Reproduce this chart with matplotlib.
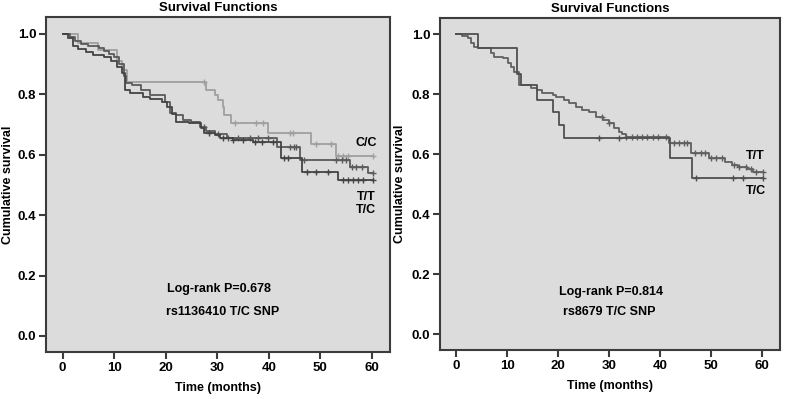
import numpy as np
import matplotlib
matplotlib.use('Agg')
import matplotlib.pyplot as plt

plt.rcParams['font.family'] = ['Liberation Sans', 'DejaVu Sans']
plt.rcParams['font.weight'] = 'bold'

# ---------------------------------------------------------------- data
# left panel: rs1136410 T/C SNP
l_cc_t = [0, 3.0, 6.9, 10.5, 11.5, 12.6, 27.9, 29.5, 30.1, 31.1, 31.4, 32.7, 39.9, 48.2, 53.1, 60.2]
l_cc_s = [1.0, 0.97, 0.948, 0.91, 0.88, 0.84, 0.815, 0.798, 0.781, 0.759, 0.732, 0.706, 0.673, 0.637, 0.596, 0.596]
l_cc_cens = [27.5, 33.4, 37.6, 38.9, 44.1, 44.7, 49.2, 52.1, 53.4, 54.4, 55.4, 60.2]

l_tt_t = [0, 1.5, 2.5, 3.5, 5, 7.0, 8, 9, 10, 11, 12, 12.3, 13.5, 15.3, 16.9, 19.8, 20.8, 22, 23.4,
          25, 26.6, 27.9, 29.5, 31.8, 41.5, 46.0, 55.7, 59.2, 60.2]
l_tt_s = [1.0, 0.99, 0.975, 0.965, 0.96, 0.955, 0.945, 0.935, 0.925, 0.90, 0.86, 0.837, 0.83, 0.815,
          0.798, 0.776, 0.737, 0.73, 0.715, 0.71, 0.693, 0.677, 0.67, 0.655, 0.625, 0.583, 0.561, 0.539, 0.539]
l_tt_cens = [27.5, 30.2, 32.1, 34.0, 36.3, 37.9, 39.9, 44.2, 44.8, 45.2, 46.9, 53.1, 54.1, 55.0,
             56.2, 57.0, 58.0, 60.2]

l_tc_t = [0, 1, 2, 3, 4.5, 6, 8, 9.5, 10.5, 11.5, 12.2, 13, 15.6, 17, 19.2, 20.2, 21.2, 22.1, 24.5,
          26.9, 27.5, 29.5, 30.5, 33, 37, 42.4, 46.5, 53.4, 60.2]
l_tc_s = [1.0, 0.985, 0.96, 0.95, 0.94, 0.93, 0.925, 0.91, 0.89, 0.87, 0.815, 0.804, 0.792, 0.785,
          0.776, 0.759, 0.735, 0.71, 0.705, 0.688, 0.671, 0.665, 0.655, 0.648, 0.643, 0.588, 0.544,
          0.517, 0.517]
l_tc_cens = [28.5, 31.1, 33.1, 35.0, 37.3, 38.6, 40.8, 43.0, 43.8, 47.5, 49.1, 51.4, 54.4, 55.4,
             56.4, 57.3, 58.3, 60.2]

# right panel: rs8679 T/C SNP
r_tt_t = [0, 1.2, 2.2, 2.9, 3.5, 4.2, 6.8, 7.4, 9.1, 10.1, 10.7, 11.4, 12.3, 14.6, 15.9, 16.9, 18.9,
          19.5, 21.2, 22.1, 23.4, 24.7, 26.1, 27.4, 28.7, 30.0, 30.9, 31.9, 32.5, 33.2, 41.7, 46.0,
          49.5, 52.8, 54.0, 55.3, 57.0, 58.2, 60.2]
r_tt_s = [1.0, 0.994, 0.987, 0.97, 0.959, 0.953, 0.937, 0.925, 0.92, 0.903, 0.892, 0.875, 0.831,
          0.822, 0.814, 0.803, 0.798, 0.792, 0.781, 0.77, 0.759, 0.748, 0.74, 0.725, 0.714, 0.703,
          0.687, 0.675, 0.668, 0.659, 0.637, 0.605, 0.587, 0.575, 0.564, 0.557, 0.55, 0.542, 0.542]
r_tt_cens = [28.5, 30.0, 33.2, 34.5, 35.5, 36.5, 37.5, 38.5, 39.5, 41.1, 42.7, 43.6, 44.6, 45.3,
             46.9, 48.0, 48.8, 50.0, 51.0, 52.2, 54.5, 55.5, 56.8, 57.8, 58.8, 60.2]

r_tc_t = [0, 4.2, 12.0, 12.6, 15.9, 18.9, 20.2, 21.2, 42.0, 46.2, 60.2]
r_tc_s = [1.0, 0.955, 0.868, 0.831, 0.781, 0.742, 0.698, 0.653, 0.587, 0.52, 0.52]
r_tc_cens = [28.0, 31.9, 47.0, 54.2, 56.2, 60.2]

xticks = [0, 10, 20, 30, 40, 50, 60]
yticks = [0.0, 0.2, 0.4, 0.6, 0.8, 1.0]

BG = '#dcdcdc'
FRAME = '#3c3c3c'


def km(ax, t, s, cens, color):
    ax.step(t, s, where='post', color=color, lw=1.3)
    # put censor marks on the curve
    idx = np.searchsorted(t, cens, side='right') - 1
    ax.plot(cens, np.array(s)[idx], ls='none', marker='+', ms=4.5, mew=1.0, color=color)


def style(ax, ylim, ylab_x):
    ax.set_facecolor(BG)
    ax.set_xlim(-3.2, 63.5)
    ax.set_ylim(*ylim)
    ax.set_xticks(xticks)
    ax.set_yticks(yticks)
    ax.set_yticklabels(['%.1f' % v for v in yticks])
    for sp in ax.spines.values():
        sp.set_color(FRAME)
        sp.set_linewidth(1.5)
    ax.tick_params(direction='out', length=5, width=1.5, color=FRAME, labelsize=9.5, pad=2)
    for lab in ax.get_xticklabels() + ax.get_yticklabels():
        lab.set_fontweight('bold')
    ax.set_title('Survival Functions', fontsize=9.5, fontweight='bold', pad=4)
    ax.set_xlabel('Time (months)', fontsize=9, fontweight='bold', labelpad=6)
    ax.set_ylabel('Cumulative survival', fontsize=9, fontweight='bold')
    ax.yaxis.set_label_coords(ylab_x, 0.5)


fig = plt.figure(figsize=(7.85, 3.99), dpi=100)
ax1 = fig.add_axes([0.0586, 0.1178, 0.4382, 0.8396])
ax2 = fig.add_axes([0.5605, 0.1228, 0.4331, 0.8328])

style(ax1, (-0.053, 1.056), -0.093)
style(ax2, (-0.052, 1.055), -0.100)

km(ax1, l_cc_t, l_cc_s, l_cc_cens, '#a0a0a0')
km(ax1, l_tt_t, l_tt_s, l_tt_cens, '#5a5a5a')
km(ax1, l_tc_t, l_tc_s, l_tc_cens, '#444444')

km(ax2, r_tt_t, r_tt_s, r_tt_cens, '#606060')
km(ax2, r_tc_t, r_tc_s, r_tc_cens, '#505050')

tk = dict(fontsize=9, fontweight='bold', ha='center', va='center')
ax1.text(58.9, 0.638, 'C/C', **tk)
ax1.text(58.9, 0.46, 'T/T', **tk)
ax1.text(58.9, 0.417, 'T/C', **tk)
ax1.text(30.3, 0.156, 'Log-rank P=0.678', **tk)
ax1.text(31.0, 0.08, 'rs1136410 T/C SNP', **tk)

ax2.text(58.7, 0.594, 'T/T', **tk)
ax2.text(58.7, 0.478, 'T/C', **tk)
ax2.text(30.3, 0.142, 'Log-rank P=0.814', **tk)
ax2.text(30.1, 0.075, 'rs8679 T/C SNP', **tk)

fig.savefig('out.png', dpi=100)
